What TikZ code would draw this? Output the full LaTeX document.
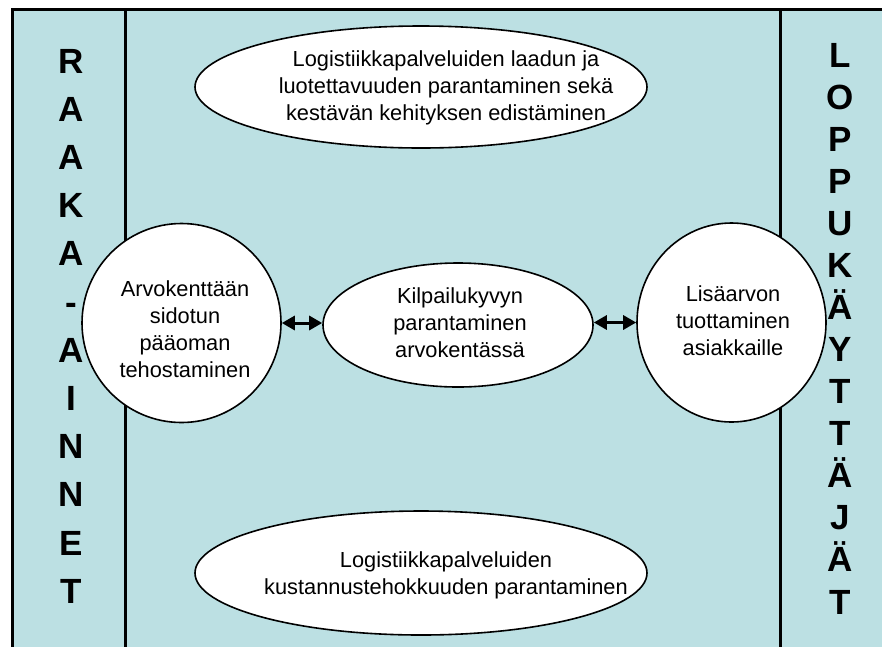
\documentclass[tikz,border=0pt]{standalone}
\usepackage{fontspec}
\setmainfont{Liberation Sans}
\usetikzlibrary{shapes.geometric,arrows.meta}
\definecolor{panel}{RGB}{188,224,227}
\begin{document}
\begin{tikzpicture}[x=1pt,y=-1pt,
  frame/.style={line width=3pt},
  goal/.style={ellipse, draw, line width=1.6pt, fill=white, inner sep=0pt},
  goaltext/.style={align=center, inner sep=0pt, font=\fontsize{21.8}{27}\selectfont},
  letter/.style={anchor=base, inner sep=0pt, font=\bfseries\fontsize{35}{42}\selectfont},
  link/.style={line width=3pt, {Triangle[length=13pt,width=14pt]}-{Triangle[length=13pt,width=14pt]}}
]
\useasboundingbox (0,0) rectangle (882,646);
\clip (0,0) rectangle (882,646);

% panel and its frame
\fill[panel] (12,9) rectangle (900,660);
\draw[frame] (12,660) -- (12,9) -- (900,9);
\draw[frame] (125,9) -- (125,660);
\draw[frame] (780,9) -- (780,660);

% side columns
\foreach \c [count=\i from 0] in {R,A,A,K,A,-,A,I,N,N,E,T}
  \node[letter] (raw\i) at (71,{73+48.2*\i}) {\c};
\foreach \c [count=\i from 0] in {L,O,P,P,U,K,Ä,Y,T,T,Ä,J,Ä,T}
  \node[letter] (end\i) at (840,{67+42.08*\i}) {\c};

% goals
\node[goal, minimum width=452pt, minimum height=122pt] (top) at (421,87) {};
\node[goaltext] (toptext) at (446,88) {Logistiikkapalveluiden laadun ja\\luotettavuuden parantaminen sekä\\kestävän kehityksen edistäminen};

\node[goal, minimum width=452pt, minimum height=124pt] (bottom) at (421,573) {};
\node[goaltext] (bottomtext) at (446,575) {Logistiikkapalveluiden\\kustannustehokkuuden parantaminen};

\node[goal, minimum width=270pt, minimum height=124pt] (mid) at (458,325) {};
\node[goaltext] (midtext) at (460,323) {Kilpailukyvyn\\parantaminen\\arvokentässä};

\node[goal, minimum width=199pt, minimum height=199pt] (left) at (181.5,323) {};
\node[goaltext] (lefttext) at (185,329) {Arvokenttään\\sidotun\\pääoman\\tehostaminen};

\node[goal, minimum width=189pt, minimum height=199pt] (right) at (731.5,322.5) {};
\node[goaltext] (righttext) at (733,321) {Lisäarvon\\tuottaminen\\asiakkaille};

% links
\draw[link] (left.east) -- (left.east -| mid.west);
\draw[link] (mid.east |- right.west) -- (right.west);
\end{tikzpicture}
\end{document}
